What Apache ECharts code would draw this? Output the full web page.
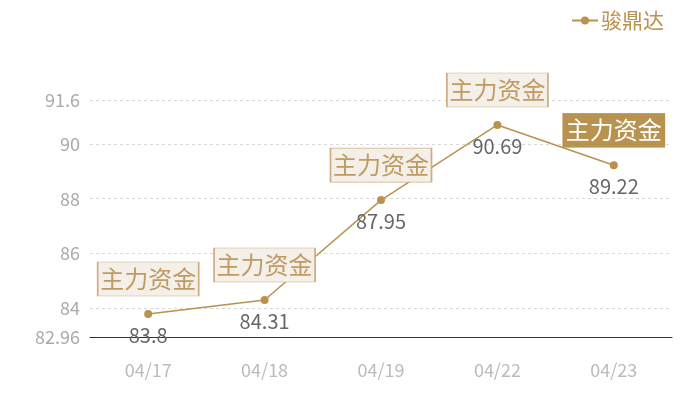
<!DOCTYPE html>
<html>
<head>
<meta charset="utf-8">
<script src="https://cdn.jsdelivr.net/npm/echarts@6/dist/echarts.min.js"></script>
<style>
  html, body { margin: 0; padding: 0; background: #fff; }
  #chart { width: 700px; height: 400px; }
</style>
</head>
<body>
<div id="chart"></div>
<script>
const dates = ['04/17', '04/18', '04/19', '04/22', '04/23']
const values = [83.8, 84.31, 87.95, 90.69, 89.22]
const seriesName = '骏鼎达'
const tagText = '主力资金'
const yMin = 82.96
const yMax = 91.6

const gold = '#b8924f'
const font = '"Noto Sans CJK SC", "Noto Sans", sans-serif'

// last point gets the filled tag, the rest the light one
const tags = dates.map((d, i) => {
  const last = i === dates.length - 1
  return {
    coord: [d, values[i]],
    itemStyle: {
      color: last ? gold : '#f4f0e9',
      borderColor: last ? gold : '#cdae80',
      borderWidth: 1
    },
    label: { color: last ? '#fff' : '#bf9b62' }
  }
})

const chart = echarts.init(document.getElementById('chart'))
chart.setOption({
  backgroundColor: '#fff',
  textStyle: { fontFamily: font },
  legend: {
    right: 31,
    top: 5,
    itemWidth: 26,
    itemHeight: 10,
    itemGap: 4,
    textStyle: { color: gold, fontSize: 21, fontFamily: font, padding: [0, 0, 0, -2] },
    data: [seriesName]
  },
  grid: { left: 90, right: 28, top: 100, bottom: 63 },
  xAxis: {
    type: 'category',
    data: dates,
    boundaryGap: true,
    axisLine: { lineStyle: { color: '#333' } },
    axisTick: { show: false },
    axisLabel: { color: '#bbb', fontSize: 18, margin: 24 }
  },
  yAxis: {
    type: 'value',
    min: yMin,
    max: yMax,
    splitNumber: 5,
    axisLine: { show: false },
    axisTick: { show: false },
    axisLabel: { color: '#aaa', fontSize: 18, margin: 10 },
    splitLine: { lineStyle: { color: '#d8d8d8', type: [3, 3] } }
  },
  series: [{
    name: seriesName,
    type: 'line',
    data: values,
    color: gold,
    symbol: 'circle',
    symbolSize: 8,
    lineStyle: { width: 1.5, color: gold },
    label: {
      show: true,
      position: 'bottom',
      distance: 7,
      color: '#666',
      fontSize: 20
    },
    markPoint: {
      symbol: 'rect',
      symbolSize: [101, 34],
      symbolOffset: [0, -35],
      label: {
        show: true,
        position: 'inside',
        formatter: tagText,
        fontSize: 24,
        fontFamily: font
      },
      data: tags
    }
  }]
})
</script>
</body>
</html>
